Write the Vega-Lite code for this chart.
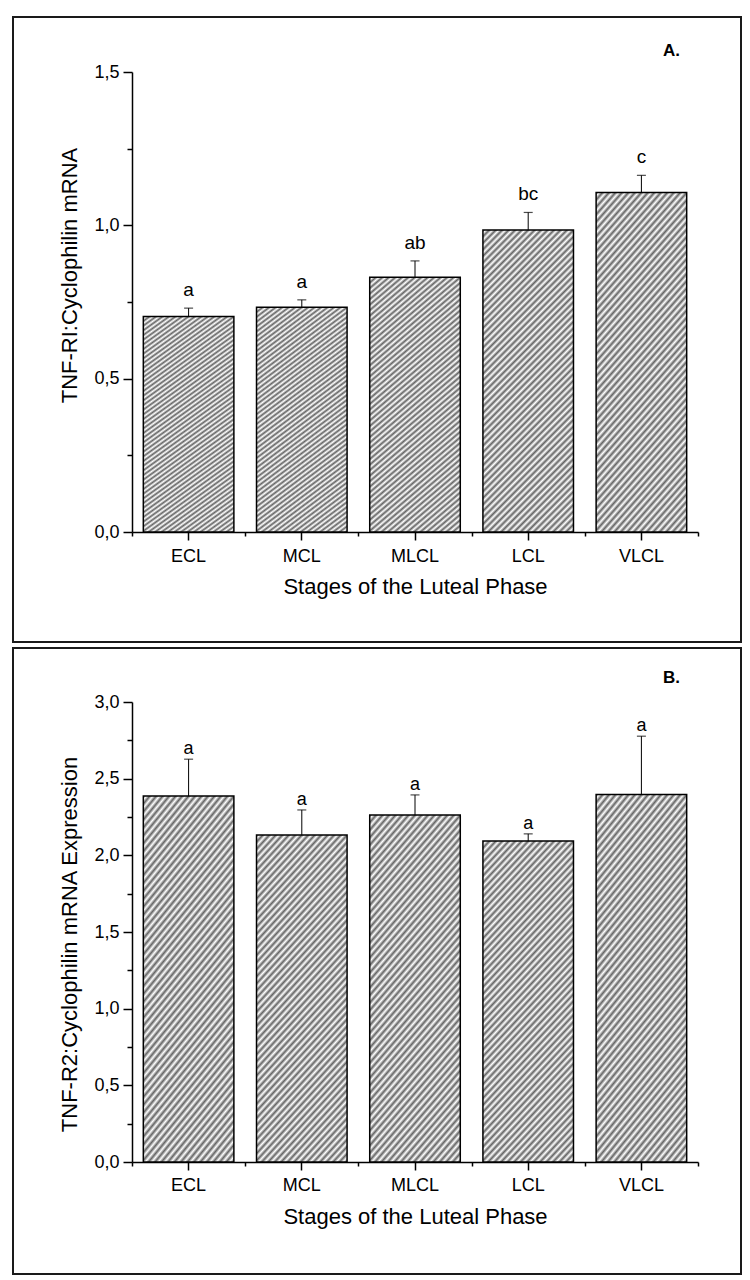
{
  "$schema": "https://vega.github.io/schema/vega-lite/v6.json",
  "padding": {"left": 12, "top": 16, "right": 0, "bottom": 0},
  "spacing": 4,
  "background": "white",
  "config": {
    "view": {"stroke": "#1a1a1a", "strokeWidth": 2},
    "font": "Liberation Sans",
    "axis": {"domainColor": "black", "tickColor": "black", "domainWidth": 1.5, "tickWidth": 1.5, "labelColor": "black", "titleColor": "black", "labelFont": "Liberation Sans", "titleFont": "Liberation Sans", "labelFontSize": 18, "titleFontSize": 22, "titleFontWeight": "normal", "grid": false},
    "bar": {
      "stroke": "black",
      "strokeWidth": 1.5,
      "fill": {
        "gradient": "linear", "x1": 0, "y1": 0, "x2": 0.36, "y2": 1.19,
        "stops": [
          {"offset":0,"color":"#646464"},{"offset":0.0083,"color":"#fff"},{"offset":0.0167,"color":"#646464"},{"offset":0.025,"color":"#fff"},{"offset":0.0333,"color":"#646464"},{"offset":0.0417,"color":"#fff"},{"offset":0.05,"color":"#646464"},{"offset":0.0583,"color":"#fff"},{"offset":0.0667,"color":"#646464"},{"offset":0.075,"color":"#fff"},{"offset":0.0833,"color":"#646464"},{"offset":0.0917,"color":"#fff"},
          {"offset":0.1,"color":"#646464"},{"offset":0.1083,"color":"#fff"},{"offset":0.1167,"color":"#646464"},{"offset":0.125,"color":"#fff"},{"offset":0.1333,"color":"#646464"},{"offset":0.1417,"color":"#fff"},{"offset":0.15,"color":"#646464"},{"offset":0.1583,"color":"#fff"},{"offset":0.1667,"color":"#646464"},{"offset":0.175,"color":"#fff"},{"offset":0.1833,"color":"#646464"},{"offset":0.1917,"color":"#fff"},
          {"offset":0.2,"color":"#646464"},{"offset":0.2083,"color":"#fff"},{"offset":0.2167,"color":"#646464"},{"offset":0.225,"color":"#fff"},{"offset":0.2333,"color":"#646464"},{"offset":0.2417,"color":"#fff"},{"offset":0.25,"color":"#646464"},{"offset":0.2583,"color":"#fff"},{"offset":0.2667,"color":"#646464"},{"offset":0.275,"color":"#fff"},{"offset":0.2833,"color":"#646464"},{"offset":0.2917,"color":"#fff"},
          {"offset":0.3,"color":"#646464"},{"offset":0.3083,"color":"#fff"},{"offset":0.3167,"color":"#646464"},{"offset":0.325,"color":"#fff"},{"offset":0.3333,"color":"#646464"},{"offset":0.3417,"color":"#fff"},{"offset":0.35,"color":"#646464"},{"offset":0.3583,"color":"#fff"},{"offset":0.3667,"color":"#646464"},{"offset":0.375,"color":"#fff"},{"offset":0.3833,"color":"#646464"},{"offset":0.3917,"color":"#fff"},
          {"offset":0.4,"color":"#646464"},{"offset":0.4083,"color":"#fff"},{"offset":0.4167,"color":"#646464"},{"offset":0.425,"color":"#fff"},{"offset":0.4333,"color":"#646464"},{"offset":0.4417,"color":"#fff"},{"offset":0.45,"color":"#646464"},{"offset":0.4583,"color":"#fff"},{"offset":0.4667,"color":"#646464"},{"offset":0.475,"color":"#fff"},{"offset":0.4833,"color":"#646464"},{"offset":0.4917,"color":"#fff"},
          {"offset":0.5,"color":"#646464"},{"offset":0.5083,"color":"#fff"},{"offset":0.5167,"color":"#646464"},{"offset":0.525,"color":"#fff"},{"offset":0.5333,"color":"#646464"},{"offset":0.5417,"color":"#fff"},{"offset":0.55,"color":"#646464"},{"offset":0.5583,"color":"#fff"},{"offset":0.5667,"color":"#646464"},{"offset":0.575,"color":"#fff"},{"offset":0.5833,"color":"#646464"},{"offset":0.5917,"color":"#fff"},
          {"offset":0.6,"color":"#646464"},{"offset":0.6083,"color":"#fff"},{"offset":0.6167,"color":"#646464"},{"offset":0.625,"color":"#fff"},{"offset":0.6333,"color":"#646464"},{"offset":0.6417,"color":"#fff"},{"offset":0.65,"color":"#646464"},{"offset":0.6583,"color":"#fff"},{"offset":0.6667,"color":"#646464"},{"offset":0.675,"color":"#fff"},{"offset":0.6833,"color":"#646464"},{"offset":0.6917,"color":"#fff"},
          {"offset":0.7,"color":"#646464"},{"offset":0.7083,"color":"#fff"},{"offset":0.7167,"color":"#646464"},{"offset":0.725,"color":"#fff"},{"offset":0.7333,"color":"#646464"},{"offset":0.7417,"color":"#fff"},{"offset":0.75,"color":"#646464"},{"offset":0.7583,"color":"#fff"},{"offset":0.7667,"color":"#646464"},{"offset":0.775,"color":"#fff"},{"offset":0.7833,"color":"#646464"},{"offset":0.7917,"color":"#fff"},
          {"offset":0.8,"color":"#646464"},{"offset":0.8083,"color":"#fff"},{"offset":0.8167,"color":"#646464"},{"offset":0.825,"color":"#fff"},{"offset":0.8333,"color":"#646464"},{"offset":0.8417,"color":"#fff"},{"offset":0.85,"color":"#646464"},{"offset":0.8583,"color":"#fff"},{"offset":0.8667,"color":"#646464"},{"offset":0.875,"color":"#fff"},{"offset":0.8833,"color":"#646464"},{"offset":0.8917,"color":"#fff"},
          {"offset":0.9,"color":"#646464"},{"offset":0.9083,"color":"#fff"},{"offset":0.9167,"color":"#646464"},{"offset":0.925,"color":"#fff"},{"offset":0.9333,"color":"#646464"},{"offset":0.9417,"color":"#fff"},{"offset":0.95,"color":"#646464"},{"offset":0.9583,"color":"#fff"},{"offset":0.9667,"color":"#646464"},{"offset":0.975,"color":"#fff"},{"offset":0.9833,"color":"#646464"},{"offset":0.9917,"color":"#fff"},
          {"offset":1,"color":"#646464"}
        ]
      }
    }
  },
  "vconcat": [
    {
      "width": 728,
      "height": 625,
      "title": {"text": "A.", "anchor": "end", "frame": "group", "offset": 0, "dx": -61, "dy": 51, "baseline": "middle", "fontSize": 17, "fontWeight": "bold", "font": "Liberation Sans", "color": "black"},
      "data": {"values": [
        {"stage": "ECL", "mean": 0.703, "err": 0.73, "sig": "a"},
        {"stage": "MCL", "mean": 0.733, "err": 0.757, "sig": "a"},
        {"stage": "MLCL", "mean": 0.831, "err": 0.884, "sig": "ab"},
        {"stage": "LCL", "mean": 0.985, "err": 1.042, "sig": "bc"},
        {"stage": "VLCL", "mean": 1.107, "err": 1.163, "sig": "c"}
      ]},
      "resolve": {"axis": {"x": "independent", "y": "independent"}},
      "layer": [
        {
          "mark": {"type": "bar", "width": {"band": 0.8}},
          "encoding": {
            "x": {"field": "stage", "type": "nominal", "sort": null,
              "scale": {"type": "band", "range": [119, 685], "paddingInner": 0, "paddingOuter": 0},
              "axis": {"orient": "bottom", "offset": -110, "title": "Stages of the Luteal Phase", "tickSize": 8, "labelPadding": 16, "labelBaseline": "middle", "labelAngle": 0, "titleY": 54, "titleBaseline": "middle"}},
            "y": {"field": "mean", "type": "quantitative",
              "scale": {"domain": [0, 1.5], "range": [515, 55], "nice": false, "zero": true},
              "axis": {"orient": "left", "offset": -119, "values": [0, 0.5, 1, 1.5], "labelExpr": "replace(format(datum.value, '.1f'), '.', ',')", "tickSize": 9, "labelPadding": 4, "title": "TNF-RI:Cyclophilin mRNA", "titleX": -63, "titleY": 258, "titleBaseline": "middle", "titleAngle": -90}}
          }
        },
        {
          "mark": {"type": "rule", "color": "black", "strokeWidth": 1},
          "encoding": {
            "x": {"field": "stage", "type": "nominal", "sort": null,
              "axis": {"orient": "bottom", "offset": -110, "tickBand": "extent", "tickSize": 4, "labels": false, "domain": false, "title": null}},
            "y": {"field": "mean", "type": "quantitative", "axis": null},
            "y2": {"field": "err"}
          }
        },
        {
          "mark": {"type": "tick", "color": "black", "size": 9, "thickness": 1.2},
          "encoding": {
            "x": {"field": "stage", "type": "nominal", "sort": null, "axis": null},
            "y": {"field": "err", "type": "quantitative",
              "axis": {"orient": "left", "offset": -119, "values": [0.25, 0.75, 1.25], "tickSize": 5, "labels": false, "domain": false, "title": null}}
          }
        },
        {
          "mark": {"type": "text", "color": "black", "baseline": "alphabetic", "dy": -12, "fontSize": 19, "font": "Liberation Sans"},
          "encoding": {
            "x": {"field": "stage", "type": "nominal", "sort": null, "axis": null},
            "y": {"field": "err", "type": "quantitative", "axis": null},
            "text": {"field": "sig"}
          }
        }
      ]
    },
    {
      "width": 728,
      "height": 626,
      "title": {"text": "B.", "anchor": "end", "frame": "group", "offset": 0, "dx": -61, "dy": 47, "baseline": "middle", "fontSize": 17, "fontWeight": "bold", "font": "Liberation Sans", "color": "black"},
      "data": {"values": [
        {"stage": "ECL", "mean": 2.387, "err": 2.627, "sig": "a"},
        {"stage": "MCL", "mean": 2.133, "err": 2.296, "sig": "a"},
        {"stage": "MLCL", "mean": 2.263, "err": 2.394, "sig": "a"},
        {"stage": "LCL", "mean": 2.093, "err": 2.14, "sig": "a"},
        {"stage": "VLCL", "mean": 2.396, "err": 2.777, "sig": "a"}
      ]},
      "resolve": {"axis": {"x": "independent", "y": "independent"}},
      "layer": [
        {
          "mark": {"type": "bar", "width": {"band": 0.8}},
          "encoding": {
            "x": {"field": "stage", "type": "nominal", "sort": null,
              "scale": {"type": "band", "range": [119, 685], "paddingInner": 0, "paddingOuter": 0},
              "axis": {"orient": "bottom", "offset": -112, "title": "Stages of the Luteal Phase", "tickSize": 8, "labelPadding": 15, "labelBaseline": "middle", "labelAngle": 0, "titleY": 54, "titleBaseline": "middle"}},
            "y": {"field": "mean", "type": "quantitative",
              "scale": {"domain": [0, 3], "range": [514, 54], "nice": false, "zero": true},
              "axis": {"orient": "left", "offset": -119, "values": [0, 0.5, 1, 1.5, 2, 2.5, 3], "labelExpr": "replace(format(datum.value, '.1f'), '.', ',')", "tickSize": 9, "labelPadding": 4, "title": "TNF-R2:Cyclophilin mRNA Expression", "titleX": -63, "titleY": 296, "titleBaseline": "middle", "titleAngle": -90}}
          }
        },
        {
          "mark": {"type": "rule", "color": "black", "strokeWidth": 1},
          "encoding": {
            "x": {"field": "stage", "type": "nominal", "sort": null,
              "axis": {"orient": "bottom", "offset": -112, "tickBand": "extent", "tickSize": 4, "labels": false, "domain": false, "title": null}},
            "y": {"field": "mean", "type": "quantitative", "axis": null},
            "y2": {"field": "err"}
          }
        },
        {
          "mark": {"type": "tick", "color": "black", "size": 9, "thickness": 1.2},
          "encoding": {
            "x": {"field": "stage", "type": "nominal", "sort": null, "axis": null},
            "y": {"field": "err", "type": "quantitative",
              "axis": {"orient": "left", "offset": -119, "values": [0.25, 0.75, 1.25, 1.75, 2.25, 2.75], "tickSize": 5, "labels": false, "domain": false, "title": null}}
          }
        },
        {
          "mark": {"type": "text", "color": "black", "baseline": "alphabetic", "dy": -5, "fontSize": 18, "font": "Liberation Sans"},
          "encoding": {
            "x": {"field": "stage", "type": "nominal", "sort": null, "axis": null},
            "y": {"field": "err", "type": "quantitative", "axis": null},
            "text": {"field": "sig"}
          }
        }
      ]
    }
  ]
}
